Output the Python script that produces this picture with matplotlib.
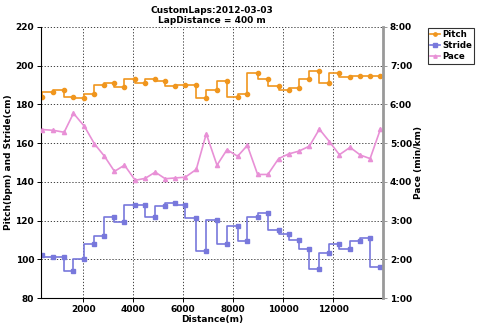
import numpy as np
import matplotlib
matplotlib.use("Agg")
from matplotlib import pyplot as plt
from matplotlib.ticker import FuncFormatter

# Lap end distances (m)
distance = [357, 798, 1227, 1600, 2041, 2442, 2843, 3244, 3645, 4074,
            4475, 4876, 5277, 5678, 6079, 6520, 6921, 7350, 7751, 8176,
            8565, 8978, 9387, 9820, 10220, 10621, 11050, 11451, 11852, 12253,
            12682, 13095, 13484, 13897]

# Pitch (bpm)
pitch = [183.6, 186.3, 187.4, 184.0, 183.5, 185.1, 190.0, 191.2, 189.2, 193.1,
         190.9, 193.2, 192.2, 189.3, 190.0, 190.0, 183.4, 187.4, 192.3, 183.6,
         185.1, 196.1, 193.2, 189.3, 187.4, 188.3, 193.1, 197.1, 190.9, 196.1,
         194.0, 194.8, 194.8, 194.8]

# Stride (cm)
stride = [102.1, 101.0, 101.0, 93.8, 100.0, 108.1, 111.9, 121.9, 119.1, 128.1,
          128.1, 121.9, 127.3, 129.2, 128.1, 121.2, 104.3, 120.2, 108.1, 117.1,
          109.2, 121.9, 124.0, 115.0, 112.9, 110.2, 105.4, 95.0, 103.0, 108.1,
          105.2, 109.3, 111.1, 96.1]

# Pace (min/km)
pace = [5.35, 5.33, 5.28, 5.77, 5.43, 4.98, 4.66, 4.27, 4.43, 4.04,
        4.09, 4.25, 4.08, 4.10, 4.12, 4.32, 5.24, 4.43, 4.83, 4.66,
        4.94, 4.19, 4.19, 4.60, 4.72, 4.79, 4.92, 5.36, 5.04, 4.70,
        4.89, 4.69, 4.60, 5.36]

cPitch = '#f0961e'
cStride = '#7878dc'
cPace = '#e890d6'

fig = plt.figure(figsize=(4.8, 3.29), dpi=100)
ax = fig.add_axes([0.0854, 0.0942, 0.7125, 0.824])
ax2 = ax.twinx()

hfont = {'fontsize': 6.5, 'fontweight': 'bold'}

p1, = ax.plot(distance, pitch, drawstyle='steps-pre', color=cPitch, lw=1.2,
              marker='o', markersize=3, label='Pitch')
p2, = ax.plot(distance, stride, drawstyle='steps-pre', color=cStride, lw=1.2,
              marker='s', markersize=3.5, label='Stride')
p3, = ax2.plot(distance, pace, color=cPace, lw=1.2,
               marker='^', markersize=3, label='Pace')

ax.set_xlim(300, 14000)
ax.set_ylim(80, 220)
ax2.set_ylim(1, 8)
ax.set_yticks(np.arange(80, 221, 20))
ax.set_xticks(np.arange(2000, 12001, 2000))
ax2.set_yticks(np.arange(1, 9, 1))
ax2.yaxis.set_major_formatter(FuncFormatter(lambda v, pos: '%d:%02d' % (int(v), int(round((v - int(v)) * 60)))))

ax.grid(True, color='#222222', linestyle=(0, (1.5, 2.2)), linewidth=0.6)
for a in (ax, ax2):
    a.spines['top'].set_visible(False)
ax.spines['right'].set_visible(False)
ax2.spines['left'].set_visible(False)
ax2.spines['bottom'].set_visible(False)
ax2.spines['right'].set_color('#999999')
ax2.spines['right'].set_linewidth(2)
ax.spines['left'].set_linewidth(0.8)
ax.spines['bottom'].set_linewidth(0.8)

ax.tick_params(labelsize=6.5, length=3, width=0.7, pad=2)
ax2.tick_params(labelsize=6.5, length=3, width=0.7, pad=2, color='#999999')
for lbl in ax.get_xticklabels() + ax.get_yticklabels() + ax2.get_yticklabels():
    lbl.set_fontweight('bold')

ax.set_xlabel('Distance(m)', labelpad=1, **hfont)
ax.set_ylabel('Pitch(bpm) and Stride(cm)', labelpad=2, **hfont)
ax2.set_ylabel('Pace (min/km)', labelpad=1, **hfont)
ax.set_title('CustomLaps:2012-03-03\nLapDistance = 400 m', pad=3, linespacing=1.1, **hfont)

leg = fig.legend((p1, p2, p3), ('Pitch', 'Stride', 'Pace'),
                 loc='upper left', bbox_to_anchor=(0.892, 0.915),
                 prop={'size': 6.2, 'weight': 'bold'},
                 fancybox=False, edgecolor='black', handlelength=1.1,
                 handletextpad=0.25, borderpad=0.25, labelspacing=0.25,
                 borderaxespad=0., markerscale=0.8)
leg.get_frame().set_linewidth(0.8)

fig.savefig('out.png', dpi=100)
